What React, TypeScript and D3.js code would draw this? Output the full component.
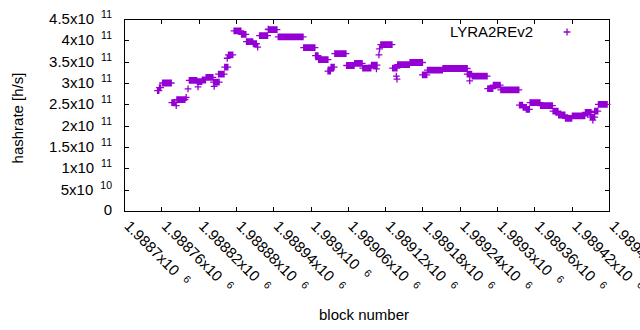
import React, { useEffect, useRef } from 'react'
import * as d3 from 'd3'

// hashrate plateaus: first block, last block, value in GH/s
const runFirstBlock = [
  1988754, 1988757, 1988762, 1988777, 1988784, 1988785, 1988800, 1988803, 1988805, 1988818,
  1988819, 1988826, 1988832, 1988844, 1988845, 1988852, 1988862, 1988866, 1988868, 1988877,
  1988889, 1988897, 1988908, 1988915, 1988918, 1988932, 1988933, 1988948, 1988989, 1989008,
  1989013, 1989028, 1989033, 1989039, 1989058, 1989071, 1989084, 1989098, 1989106, 1989110,
  1989111, 1989113, 1989132, 1989138, 1989139, 1989140, 1989160, 1989180, 1989188, 1989213,
  1989252, 1989256, 1989260, 1989285, 1989294, 1989306, 1989336, 1989342, 1989347, 1989353,
  1989370, 1989390, 1989399, 1989410, 1989421, 1989442, 1989450, 1989454, 1989457, 1989463,
]
const runLastBlock = [
  1988756, 1988759, 1988776, 1988782, 1988784, 1988798, 1988800, 1988803, 1988817, 1988825,
  1988819, 1988831, 1988843, 1988853, 1988845, 1988861, 1988867, 1988866, 1988875, 1988888,
  1988896, 1988907, 1988913, 1988915, 1988931, 1988932, 1988946, 1988988, 1989007, 1989012,
  1989028, 1989032, 1989038, 1989057, 1989070, 1989083, 1989097, 1989107, 1989106, 1989110,
  1989111, 1989131, 1989139, 1989138, 1989139, 1989159, 1989180, 1989187, 1989212, 1989252,
  1989259, 1989256, 1989284, 1989293, 1989305, 1989335, 1989341, 1989347, 1989352, 1989369,
  1989389, 1989398, 1989409, 1989420, 1989441, 1989451, 1989457, 1989454, 1989462, 1989477,
]
const runHashrate = [
  282, 289, 300, 254, 247, 261, 266, 286, 306, 303,
  291, 307, 313, 302, 292, 321, 337, 358, 366, 422,
  414, 397, 392, 384, 411, 426, 425, 408, 383, 364,
  355, 328, 337, 369, 341, 346, 335, 342, 333, 366,
  380, 390, 335, 316, 309, 343, 348, 319, 330, 334,
  321, 305, 316, 287, 295, 284, 248, 243, 238, 254,
  247, 234, 225, 217, 223, 231, 220, 213, 234, 250,
]

const xTicks = [
  1988700, 1988760, 1988820, 1988880, 1988940, 1989000, 1989060,
  1989120, 1989180, 1989240, 1989300, 1989360, 1989420, 1989480,
]
const xTickLabels = [
  '1.9887', '1.98876', '1.98882', '1.98888', '1.98894', '1.989', '1.98906',
  '1.98912', '1.98918', '1.98924', '1.9893', '1.98936', '1.98942', '1.98948',
]
const yTicks = [0, 5e10, 1e11, 1.5e11, 2e11, 2.5e11, 3e11, 3.5e11, 4e11, 4.5e11]
const yTickLabels = ['0', '5', '1', '1.5', '2', '2.5', '3', '3.5', '4', '4.5']
const yTickExponents = ['', '10', '11', '11', '11', '11', '11', '11', '11', '11']

const seriesName = 'LYRA2REv2'
const violet = '#9400d3'
const font = '"Liberation Sans", Arial, sans-serif'

export default function App() {
  const ref = useRef<SVGSVGElement>(null)

  useEffect(() => {
    const svg = d3.select(ref.current)
    svg.selectAll('*').remove()

    const left = 124, right = 609, top = 19, bottom = 211

    const x = d3.scaleLinear().domain([1988700, 1989480]).range([left, right])
    const y = d3.scaleLinear().domain([0, 4.5e11]).range([bottom, top])

    // expand plateaus into one point per block
    const points: [number, number][] = []
    runFirstBlock.forEach((b0, i) => {
      for (let b = b0; b <= runLastBlock[i]; b++) points.push([b, runHashrate[i] * 1e9])
    })

    // tick marks on all four sides, pointing inwards
    const tick = 4.5
    const axes = [
      { a: d3.axisBottom(x).tickValues(xTicks), t: `translate(0,${bottom})` },
      { a: d3.axisTop(x).tickValues(xTicks), t: `translate(0,${top})` },
      { a: d3.axisLeft(y).tickValues(yTicks), t: `translate(${left},0)` },
      { a: d3.axisRight(y).tickValues(yTicks), t: `translate(${right},0)` },
    ]
    axes.forEach(({ a, t }) => {
      const g = svg.append('g')
        .attr('transform', t)
        .call(a.tickSizeInner(-tick).tickSizeOuter(0).tickFormat(() => ''))
      g.select('.domain').remove()
      g.selectAll('line').attr('stroke', '#000').attr('shape-rendering', 'crispEdges')
    })

    svg.append('rect')
      .attr('x', left + 0.5)
      .attr('y', top + 0.5)
      .attr('width', right - left)
      .attr('height', bottom - top)
      .attr('fill', 'none')
      .attr('stroke', '#000')
      .attr('shape-rendering', 'crispEdges')

    // y tick labels
    const yl = svg.append('g').attr('font-family', font).attr('font-size', 15).attr('fill', '#000')
    yTicks.forEach((v, i) => {
      const txt = yl.append('text')
        .attr('x', 112)
        .attr('y', y(v) + (yTickExponents[i] ? 5 : 4))
        .attr('text-anchor', 'end')
      if (yTickExponents[i]) {
        txt.append('tspan').text(yTickLabels[i] + 'x10')
        txt.append('tspan').attr('dx', 7).attr('dy', -6).attr('font-size', 10.5).text(yTickExponents[i])
      } else {
        txt.text(yTickLabels[i])
      }
    })

    // x tick labels, rotated
    const xl = svg.append('g').attr('font-family', font).attr('font-size', 15).attr('fill', '#000')
    xTicks.forEach((v, i) => {
      const txt = xl.append('text')
        .attr('transform', `translate(${x(v) - 0.5},${bottom + 16}) rotate(45)`)
      txt.append('tspan').text(xTickLabels[i] + 'x10')
      txt.append('tspan').attr('dx', 9).attr('dy', -4.5).attr('font-size', 10.5).text('6')
    })

    // axis titles
    svg.append('text')
      .attr('transform', `translate(23,${(top + bottom) / 2 + 3}) rotate(-90)`)
      .attr('text-anchor', 'middle')
      .attr('font-family', font)
      .attr('font-size', 15)
      .text('hashrate [h/s]')

    svg.append('text')
      .attr('x', 364)
      .attr('y', 320)
      .attr('text-anchor', 'middle')
      .attr('font-family', font)
      .attr('font-size', 15)
      .text('block number')

    // points
    const s = 3.4
    const p = d3.path()
    points.forEach(([b, h]) => {
      const px = x(b), py = y(h)
      p.moveTo(px - s, py); p.lineTo(px + s, py)
      p.moveTo(px, py - s); p.lineTo(px, py + s)
    })
    svg.append('path')
      .attr('d', p.toString())
      .attr('fill', 'none')
      .attr('stroke', violet)
      .attr('stroke-width', 1.3)

    // legend
    svg.append('text')
      .attr('x', 533)
      .attr('y', 37)
      .attr('text-anchor', 'end')
      .attr('font-family', font)
      .attr('font-size', 15)
      .text(seriesName)

    const lp = d3.path()
    lp.moveTo(567 - s, 32); lp.lineTo(567 + s, 32)
    lp.moveTo(567, 32 - s); lp.lineTo(567, 32 + s)
    svg.append('path')
      .attr('d', lp.toString())
      .attr('stroke', violet)
      .attr('stroke-width', 1.3)
  }, [])

  return (
    <svg
      ref={ref}
      width={640}
      height={330}
      style={{ position: 'absolute', left: 0, top: 0, background: '#fff' }}
    />
  )
}
